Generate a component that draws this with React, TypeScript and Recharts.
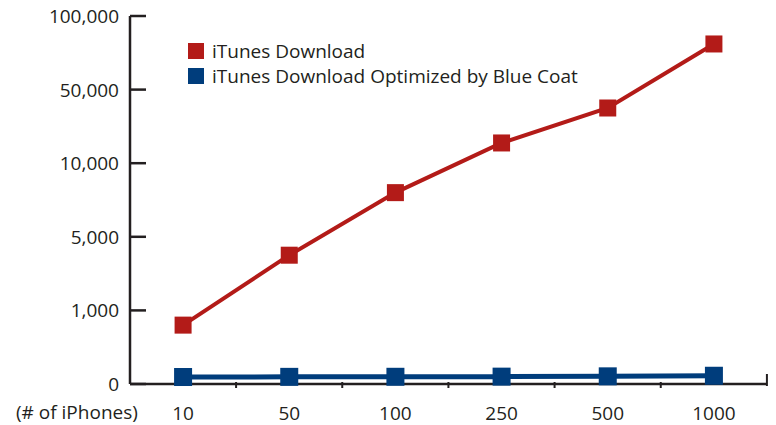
import { LineChart, Line, XAxis, YAxis } from "recharts";

const phones = ["10", "50", "100", "250", "500", "1000"];
const itunes = [800, 4000, 8000, 21000, 40000, 81000];
const optimized = [95, 97, 98, 100, 104, 112];

// y axis is evenly spaced between these break values
const yBreaks = [0, 1000, 5000, 10000, 50000, 100000];
const yLabels = ["0", "1,000", "5,000", "10,000", "50,000", "100,000"];

const seriesNames = ["iTunes Download", "iTunes Download Optimized by Blue Coat"];
const RED = "#b31b18";
const BLUE = "#003d7c";
const INK = "#231f20";
const FONT = "'Open Sans', sans-serif";
const FS = 19;

function toPos(v: number) {
  for (let i = 1; i < yBreaks.length; i++) {
    if (v <= yBreaks[i]) {
      return i - 1 + (v - yBreaks[i - 1]) / (yBreaks[i] - yBreaks[i - 1]);
    }
  }
  return yBreaks.length - 1;
}

const data = phones.map((p, i) => ({
  phones: p,
  itunes: toPos(itunes[i]),
  optimized: toPos(optimized[i]),
}));

const SquareDot = (color: string, size: number) => (props: any) => {
  const { cx, cy, index } = props;
  if (cx == null || cy == null) return <g key={index} />;
  return <rect key={index} x={cx - size / 2} y={cy - size / 2} width={size} height={size} fill={color} />;
};

function XTick(props: any) {
  const { x, y, payload, index } = props;
  const half = 53;
  const last = index === phones.length - 1;
  return (
    <g>
      <text x={x} y={y + 34} textAnchor="middle" fontSize={FS} fill={INK} fontFamily={FONT}>
        {payload.value}
      </text>
      {last ? (
        <line x1={x + half} x2={x + half} y1={y - 12} y2={y} stroke={INK} strokeWidth={2} />
      ) : (
        <line x1={x + half} x2={x + half} y1={y - 4} y2={y + 2} stroke={INK} strokeWidth={2} />
      )}
    </g>
  );
}

function YTick(props: any) {
  const { x, y, payload } = props;
  return (
    <g>
      <line x1={x} x2={x + 16} y1={y} y2={y} stroke={INK} strokeWidth={2.5} />
      <text x={x - 11} y={y + 7} textAnchor="end" fontSize={FS} fill={INK} fontFamily={FONT}>
        {yLabels[payload.value]}
      </text>
    </g>
  );
}

function LegendBox() {
  const colors = [RED, BLUE];
  return (
    <div style={{ position: "absolute", left: 188, top: 38, fontFamily: FONT, fontSize: FS, color: INK }}>
      {seriesNames.map((n, i) => (
        <div key={n} style={{ display: "flex", alignItems: "center", height: 25 }}>
          <span style={{ width: 16, height: 16, background: colors[i], marginRight: 8, display: "inline-block" }} />
          {n}
        </div>
      ))}
    </div>
  );
}

export default function App() {
  return (
    <div style={{ position: "absolute", left: 0, top: 0, width: 776, height: 425, background: "#fff" }}>
      <LineChart width={776} height={425} data={data} margin={{ top: 16, right: 9, bottom: 0, left: 0 }}>
        <XAxis
          dataKey="phones"
          scale="band"
          height={41}
          axisLine={{ stroke: INK, strokeWidth: 2.5 }}
          tickLine={false}
          tickSize={0}
          tick={<XTick />}
          interval={0}
        />
        <YAxis
          type="number"
          domain={[0, 5]}
          ticks={[0, 1, 2, 3, 4, 5]}
          width={130}
          axisLine={{ stroke: INK, strokeWidth: 2.5 }}
          tickLine={false}
          tickSize={0}
          tickMargin={0}
          tick={<YTick />}
          interval={0}
        />
        <Line
          dataKey="optimized"
          name={seriesNames[1]}
          stroke={BLUE}
          strokeWidth={5}
          dot={SquareDot(BLUE, 18)}
          activeDot={false}
          isAnimationActive={false}
        />
        <Line
          dataKey="itunes"
          name={seriesNames[0]}
          stroke={RED}
          strokeWidth={4}
          dot={SquareDot(RED, 17)}
          activeDot={false}
          isAnimationActive={false}
        />
      </LineChart>
      <LegendBox />
      <div
        style={{
          position: "absolute",
          left: 16,
          top: 399,
          fontFamily: FONT,
          fontSize: FS,
          color: INK,
          lineHeight: "26px",
        }}
      >
        (# of iPhones)
      </div>
    </div>
  );
}
